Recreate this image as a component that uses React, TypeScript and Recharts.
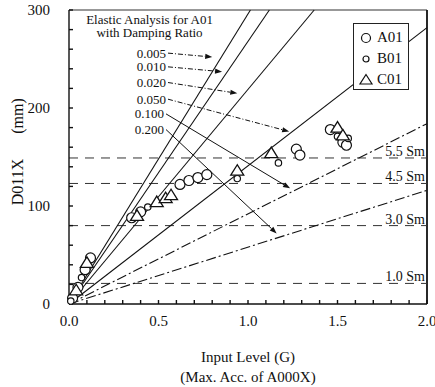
import React from 'react';
import { ScatterChart, Scatter, XAxis, YAxis, ReferenceLine, ReferenceDot } from 'recharts';

const FONT = '"Liberation Serif", "Times New Roman", serif';

// measured peak displacement vs input level
const a01 = [
  { x: 0.02, y: 6 }, { x: 0.05, y: 17 }, { x: 0.09, y: 35 }, { x: 0.12, y: 47 },
  { x: 0.35, y: 88 }, { x: 0.4, y: 94 }, { x: 0.62, y: 122 }, { x: 0.67, y: 126 },
  { x: 0.72, y: 129 }, { x: 0.77, y: 132 }, { x: 1.27, y: 158 }, { x: 1.29, y: 152 },
  { x: 1.46, y: 178 }, { x: 1.53, y: 165 }, { x: 1.55, y: 162 }
];
const b01 = [
  { x: 0.01, y: 3 }, { x: 0.07, y: 27 }, { x: 0.44, y: 99 }, { x: 0.94, y: 128 },
  { x: 1.17, y: 144 }, { x: 1.5, y: 171 }, { x: 1.56, y: 169 }
];
const c01 = [
  { x: 0.04, y: 14 }, { x: 0.1, y: 42 }, { x: 0.38, y: 90 }, { x: 0.49, y: 104 },
  { x: 0.54, y: 108 }, { x: 0.57, y: 111 }, { x: 0.94, y: 136 }, { x: 1.13, y: 154 },
  { x: 1.5, y: 180 }, { x: 1.53, y: 172 }
];

// elastic analysis lines (mm per G) for each damping ratio
const dampingRatios = ['0.005', '0.010', '0.020', '0.050', '0.100', '0.200'];
const elasticSlopes = [296, 268, 219, 141, 92, 58];
const elasticDashed = [false, false, false, false, true, true];

// label arrows: start / end in data units
const arrowFrom = [[0.553, 256], [0.553, 242], [0.553, 226], [0.553, 209], [0.542, 194], [0.542, 178]];
const arrowTo = [[0.8, 252], [0.855, 237], [0.94, 215], [1.23, 176], [1.235, 118], [1.16, 72]];
const arrowDashed = [true, true, true, true, false, false];

const smLevels = [149, 123, 80, 21];
const smLabels = ['5.5 Sm', '4.5 Sm', '3.0 Sm', '1.0 Sm'];

// tick marks every 0.1 / 20, labels only on these
const xLabelTicks = [0, 0.5, 1.0, 1.5, 2.0];
const yLabelTicks = [0, 100, 200, 300];
const xTicks = [0, 0.1, 0.2, 0.3, 0.4, 0.5, 0.6, 0.7, 0.8, 0.9, 1, 1.1, 1.2, 1.3, 1.4, 1.5, 1.6, 1.7, 1.8, 1.9, 2];
const yTicks = [0, 20, 40, 60, 80, 100, 120, 140, 160, 180, 200, 220, 240, 260, 280, 300];

const bigCircle = (p: any) => (
  <circle cx={p.cx} cy={p.cy} r={5} fill='#fff' stroke='#111' strokeWidth={1.2} />
);
const smallCircle = (p: any) => (
  <circle cx={p.cx} cy={p.cy} r={3.2} fill='#fff' stroke='#111' strokeWidth={1.2} />
);
const triangle = (p: any) => (
  <polygon
    points={`${p.cx},${p.cy - 6} ${p.cx - 6.5},${p.cy + 4.5} ${p.cx + 6.5},${p.cy + 4.5}`}
    fill='#fff'
    stroke='#111'
    strokeWidth={1.3}
  />
);

const arrowShape = (label: string, dashed: boolean) => (p: any) => {
  const { x1, y1, x2, y2 } = p;
  const a = Math.atan2(y2 - y1, x2 - x1);
  const bx = x2 - 7 * Math.cos(a);
  const by = y2 - 7 * Math.sin(a);
  const s = Math.sin(a) * 2.6;
  const c = Math.cos(a) * 2.6;
  return (
    <g>
      <text x={x1 - 2} y={y1 + 4.5} textAnchor='end' fontFamily={FONT} fontSize={13} fill='#111'>
        {label}
      </text>
      <line x1={x1} y1={y1} x2={bx} y2={by} stroke='#111' strokeWidth={1} strokeDasharray={dashed ? '5 2 1 2' : undefined} />
      <polygon points={`${x2},${y2} ${bx - s},${by + c} ${bx + s},${by - c}`} fill='#111' />
    </g>
  );
};

const levelLabel = (text: string) => (lp: any) => {
  const vb = lp.viewBox;
  return (
    <text x={vb.x + vb.width - 2} y={vb.y - 2} textAnchor='end' fontFamily={FONT} fontSize={14} fill='#111'>
      {text}
    </text>
  );
};

const titleText = (text: string) => (p: any) => (
  <text x={p.cx} y={p.cy} textAnchor='middle' fontFamily={FONT} fontSize={13} fill='#111'>
    {text}
  </text>
);

const xTick = (p: any) =>
  xLabelTicks.includes(p.payload.value) ? (
    <text x={p.x} y={p.y + 11} textAnchor='middle' fontFamily={FONT} fontSize={15} fill='#111'>
      {Number(p.payload.value).toFixed(1)}
    </text>
  ) : <g />;
const yTick = (p: any) =>
  yLabelTicks.includes(p.payload.value) ? (
    <text x={p.x} y={p.y + 5} textAnchor='end' fontFamily={FONT} fontSize={15} fill='#111'>
      {p.payload.value}
    </text>
  ) : <g />;

const xAxisLabel = (lp: any) => {
  const vb = lp.viewBox;
  const cx = vb.x + vb.width / 2;
  return (
    <g>
      <text x={cx} y={362} textAnchor='middle' fontFamily={FONT} fontSize={15} fill='#111'>Input Level (G)</text>
      <text x={cx} y={382} textAnchor='middle' fontFamily={FONT} fontSize={15} fill='#111'>(Max. Acc. of A000X)</text>
    </g>
  );
};

const yAxisLabel = () => (
  <g>
    <text transform='translate(23,116) rotate(-90)' textAnchor='middle' fontFamily={FONT} fontSize={16} fill='#111'>(mm)</text>
    <text transform='translate(23,182) rotate(-90)' textAnchor='middle' fontFamily={FONT} fontSize={16} fill='#111'>D011X</text>
  </g>
);

const legendItems = [
  { name: 'A01', mark: <circle cx={8} cy={8} r={4.5} fill='none' stroke='#111' strokeWidth={1.2} /> },
  { name: 'B01', mark: <circle cx={8} cy={8} r={3} fill='none' stroke='#111' strokeWidth={1.2} /> },
  { name: 'C01', mark: <polygon points='8,2.5 2,12 14,12' fill='none' stroke='#111' strokeWidth={1.2} /> }
];

export default function App() {
  return (
    <div style={{ position: 'absolute', left: 0, top: 0, width: 435, height: 387, background: '#fff' }}>
      <ScatterChart width={435} height={387} margin={{ top: 10, right: 8, left: 0, bottom: 0 }}>
        <XAxis type='number' dataKey='x' domain={[0, 2]} ticks={xTicks} interval={0}
          tick={xTick} tickSize={-4} tickMargin={15} height={83} stroke='#111' strokeWidth={1.4}
          label={xAxisLabel} />
        <YAxis type='number' dataKey='y' domain={[0, 300]} ticks={yTicks} interval={0} tick={yTick}
          tickSize={-4} tickMargin={23} width={69} stroke='#111' strokeWidth={1.4} label={yAxisLabel} />

        <ReferenceLine y={300} stroke='#333' strokeWidth={1.2} />
        <ReferenceLine x={2} stroke='#111' strokeWidth={1.8} />

        {smLevels.map((v, i) => (
          <ReferenceLine key={smLabels[i]} y={v} stroke='#333' strokeWidth={1} strokeDasharray='9 7'
            label={levelLabel(smLabels[i])} />
        ))}

        {elasticSlopes.map((k, i) => {
          const xe = Math.min(2, 300 / k);
          return (
            <ReferenceLine key={dampingRatios[i]} segment={[{ x: 0, y: 0 }, { x: xe, y: k * xe }]}
              stroke='#111' strokeWidth={1.1} strokeDasharray={elasticDashed[i] ? '10 3 2 3' : undefined} />
          );
        })}

        {dampingRatios.map((d, i) => (
          <ReferenceLine key={'arrow' + d}
            segment={[{ x: arrowFrom[i][0], y: arrowFrom[i][1] }, { x: arrowTo[i][0], y: arrowTo[i][1] }]}
            shape={arrowShape(d, arrowDashed[i])} />
        ))}

        <ReferenceDot x={0.45} y={286} r={0} shape={titleText('Elastic Analysis for A01')} />
        <ReferenceDot x={0.45} y={272} r={0} shape={titleText('with Damping Ratio')} />

        <Scatter name='A01' data={a01} shape={bigCircle} isAnimationActive={false} />
        <Scatter name='B01' data={b01} shape={smallCircle} isAnimationActive={false} />
        <Scatter name='C01' data={c01} shape={triangle} isAnimationActive={false} />
      </ScatterChart>

      <div style={{
        position: 'absolute', left: 353, top: 23, width: 56, height: 67, background: '#fff',
        border: '1px solid #222', fontFamily: FONT, fontSize: 15, color: '#111', boxSizing: 'border-box',
        padding: '3px 0 0 4px'
      }}>
        {legendItems.map((it) => (
          <div key={it.name} style={{ display: 'flex', alignItems: 'center', height: 21 }}>
            <svg width={16} height={16} style={{ marginRight: 3 }}>{it.mark}</svg>
            <span>{it.name}</span>
          </div>
        ))}
      </div>
    </div>
  );
}
